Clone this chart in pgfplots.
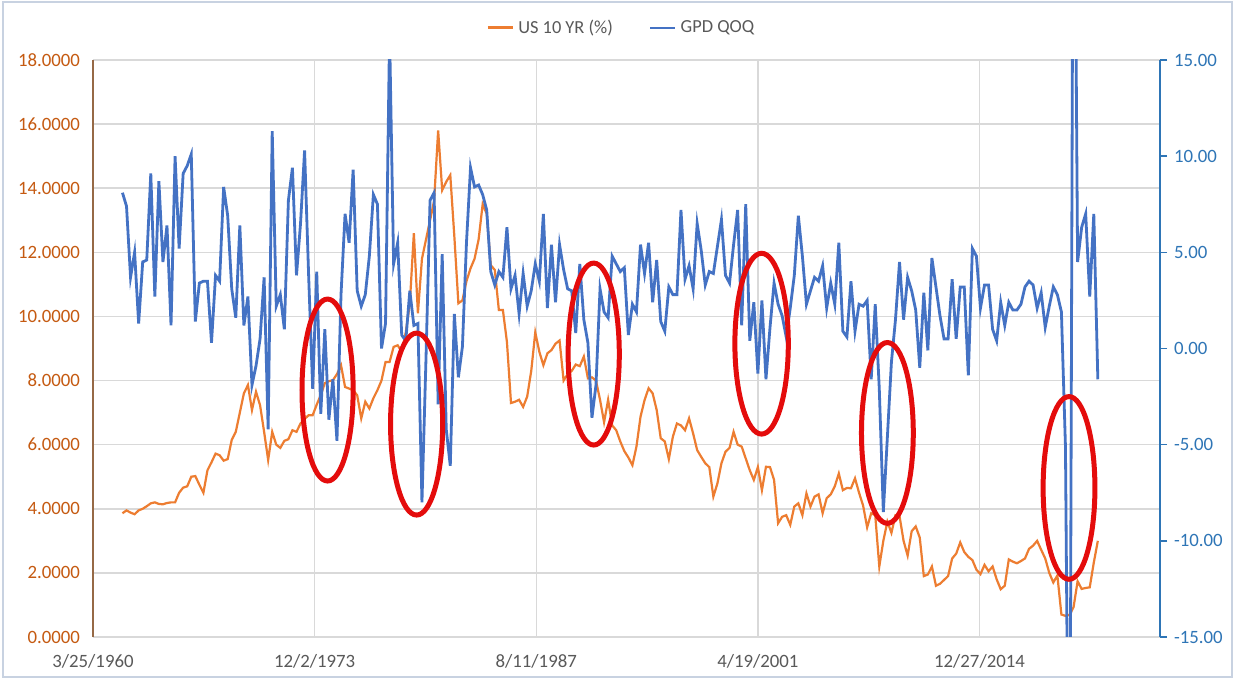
\documentclass[border=0pt]{standalone}
\usepackage{pgfplots}
\usepackage{pgfplotstable}
\pgfplotsset{compat=1.18}
\usepackage{fontspec}
\setmainfont{Carlito}
\definecolor{blueline}{RGB}{68,114,196}
\definecolor{orangeline}{RGB}{237,125,49}
\definecolor{lefttick}{RGB}{197,90,17}
\definecolor{righttick}{RGB}{46,117,182}
\definecolor{gridc}{RGB}{217,217,217}
\definecolor{xlab}{RGB}{89,89,89}
\definecolor{leftaxis}{RGB}{150,105,70}
\definecolor{framec}{RGB}{200,210,225}
\definecolor{ellred}{RGB}{228,12,12}
\pgfplotstableread{
i us gdp
0 3.86 8.1
1 3.95 7.4
2 3.88 3.7
3 3.83 5.0
4 3.95 1.3
5 4.00 4.5
6 4.08 4.6
7 4.17 9.1
8 4.20 2.7
9 4.15 8.7
10 4.14 4.5
11 4.18 6.4
12 4.20 1.2
13 4.20 10.0
14 4.50 5.2
15 4.66 9.1
16 4.70 9.5
17 5.00 10.1
18 5.02 1.4
19 4.75 3.4
20 4.50 3.5
21 5.20 3.5
22 5.45 0.3
23 5.72 3.8
24 5.67 3.5
25 5.50 8.4
26 5.55 6.9
27 6.15 3.1
28 6.40 1.6
29 7.00 6.4
30 7.60 1.2
31 7.86 2.7
32 7.08 -1.9
33 7.65 -0.9
34 7.23 0.5
35 6.40 3.7
36 5.52 -4.2
37 6.40 11.3
38 6.00 2.2
39 5.90 2.8
40 6.12 1.0
41 6.17 7.7
42 6.45 9.4
43 6.40 3.8
44 6.66 6.5
45 6.80 10.3
46 6.92 3.8
47 6.92 -2.1
48 7.25 4.0
49 7.55 -3.4
50 7.92 1.0
51 7.98 -3.7
52 8.01 -1.6
53 8.20 -4.8
54 8.48 2.8
55 7.80 7.0
56 7.75 5.5
57 7.70 9.3
58 7.54 3.0
59 6.82 2.2
60 7.34 2.8
61 7.13 4.8
62 7.45 8.0
63 7.70 7.5
64 8.00 0.0
65 8.58 1.3
66 8.58 16.4
67 9.05 4.4
68 9.10 5.5
69 8.90 0.7
70 9.50 0.4
71 10.40 3.0
72 12.60 1.2
73 10.10 1.3
74 11.80 -8.0
75 12.40 -0.5
76 13.00 7.7
77 13.60 8.1
78 15.80 -2.9
79 13.94 4.9
80 14.20 -4.2
81 14.41 -6.1
82 12.50 1.8
83 10.41 -1.5
84 10.50 0.1
85 11.10 5.5
86 11.50 9.4
87 11.80 8.4
88 12.40 8.5
89 13.50 8.0
90 13.20 7.2
91 11.60 4.0
92 11.45 3.3
93 10.20 4.0
94 10.20 3.7
95 9.20 6.3
96 7.30 3.1
97 7.34 3.8
98 7.40 1.8
99 7.18 3.9
100 7.50 2.2
101 8.30 3.0
102 9.50 4.4
103 8.90 3.5
104 8.48 7.0
105 8.85 2.1
106 8.95 5.4
107 9.15 2.4
108 9.25 5.4
109 8.00 4.1
110 8.20 3.1
111 8.30 3.0
112 8.50 0.8
113 8.45 4.4
114 8.75 1.5
115 8.07 0.3
116 8.10 -3.6
117 8.00 -1.9
118 7.40 3.1
119 6.70 1.9
120 7.40 1.6
121 6.60 4.8
122 6.45 4.4
123 6.10 4.0
124 5.80 4.2
125 5.60 0.7
126 5.36 2.3
127 5.94 1.9
128 6.87 5.4
129 7.39 3.9
130 7.76 5.5
131 7.60 2.4
132 7.08 4.6
133 6.20 1.4
134 6.10 0.9
135 5.55 3.2
136 6.25 2.8
137 6.66 2.8
138 6.60 7.2
139 6.45 3.6
140 6.82 4.3
141 6.35 3.1
142 5.83 6.5
143 5.62 5.1
144 5.42 3.3
145 5.30 4.0
146 4.38 3.9
147 4.79 5.3
148 5.42 6.7
149 5.78 3.8
150 5.90 3.4
151 6.40 5.4
152 6.00 7.2
153 5.94 1.2
154 5.57 7.5
155 5.20 0.4
156 4.90 2.4
157 5.30 -1.3
158 4.58 2.5
159 5.31 -1.6
160 5.30 1.1
161 4.90 3.4
162 3.55 2.3
163 3.75 1.7
164 3.80 0.6
165 3.50 2.1
166 4.07 3.8
167 4.17 6.9
168 3.80 4.8
169 4.48 2.3
170 4.07 3.0
171 4.38 3.7
172 4.45 3.5
173 3.86 4.3
174 4.33 2.1
175 4.45 3.4
176 4.70 2.3
177 5.10 5.5
178 4.58 0.9
179 4.65 0.6
180 4.64 3.5
181 4.95 0.9
182 4.50 2.3
183 4.10 2.2
184 3.42 2.5
185 3.86 -1.6
186 3.80 2.3
187 2.20 -2.1
188 3.00 -8.5
189 3.60 -4.6
190 3.25 -0.7
191 3.80 1.5
192 3.77 4.5
193 3.00 1.5
194 2.54 3.7
195 3.30 3.0
196 3.45 2.0
197 3.10 -1.0
198 1.90 2.9
199 1.95 -0.1
200 2.20 4.7
201 1.60 3.2
202 1.66 1.7
203 1.78 0.5
204 1.90 0.5
205 2.45 3.6
206 2.60 0.5
207 2.95 3.2
208 2.65 3.2
209 2.50 -1.4
210 2.40 5.2
211 2.10 4.8
212 1.96 2.1
213 2.25 3.3
214 2.05 3.3
215 2.20 1.0
216 1.80 0.4
217 1.49 2.4
218 1.60 1.2
219 2.42 2.4
220 2.35 2.0
221 2.30 2.0
222 2.37 2.3
223 2.45 3.2
224 2.75 3.5
225 2.85 3.3
226 3.00 2.1
227 2.72 2.9
228 2.45 1.1
229 2.00 2.2
230 1.70 3.2
231 1.92 2.8
232 0.70 1.9
233 0.66 -5.1
234 0.69 -31.2
235 0.93 33.8
236 1.74 4.5
237 1.50 6.3
238 1.53 7.0
239 1.55 2.7
240 2.32 7.0
241 3.00 -1.6
}\data
\newcommand{\tickfont}{\fontsize{9.4bp}{11bp}\selectfont}
\begin{document}
\begin{tikzpicture}
\useasboundingbox (-46.5bp,-21bp) rectangle (571bp,318.5bp);
\fill[white] (-46.5bp,-21bp) rectangle (571bp,318.5bp);
\begin{axis}[
  at={(0bp,0bp)}, anchor=south west, scale only axis,
  width=533.5bp, height=288.5bp,
  xmin=1960.23, xmax=2026.14, ymin=0, ymax=18,
  xtick={1960.23,1973.92,1987.61,2001.30,2014.99},
  xticklabels={3/25/1960,12/2/1973,8/11/1987,4/19/2001,12/27/2014},
  ytick={0,2,...,18},
  axis x line*=bottom, axis y line*=left,
  x axis line style={draw=gridc, line width=0.75bp, -},
  y axis line style={draw=leftaxis, line width=1bp, -},
  xmajorgrids, ymajorgrids,
  major grid style={draw=gridc, line width=0.75bp},
  major tick length=0pt,
  tick style={draw=none},
  /pgf/number format/assume math mode=true,
  yticklabel style={text=lefttick, font=\tickfont, xshift=-3bp, /pgf/number format/.cd, fixed, fixed zerofill, precision=4},
  xticklabel style={text=xlab, font=\tickfont, yshift=-5bp},
]
\addplot[orangeline, line width=1.1bp] table[x expr=1962.05+0.25*\thisrow{i}, y=us] {\data};
\end{axis}
\begin{axis}[
  at={(0bp,0bp)}, anchor=south west, scale only axis,
  width=533.5bp, height=288.5bp,
  xmin=1960.23, xmax=2026.14, ymin=-15, ymax=15,
  ytick={-15,-10,...,15}, xtick=\empty,
  axis y line*=right, axis x line=none,
  y axis line style={draw=righttick, line width=1bp, -},
  ytick style={draw=righttick, line width=0.8bp},
  tick align=outside, major tick length=3.5bp,
  /pgf/number format/assume math mode=true,
  yticklabel style={text=righttick, font=\tickfont, /pgf/number format/.cd, fixed, fixed zerofill, precision=2},
  legend style={at={(0.496,1.0555)}, anchor=center, draw=none, fill=none, font=\fontsize{9.2bp}{11bp}\selectfont, text=xlab, legend columns=2, /tikz/every even column/.append style={column sep=16bp}},
  legend image code/.code={\draw[#1] (0bp,0bp) -- (12.5bp,0bp);},
]
\addlegendimage{orangeline, line width=1.5bp}
\addlegendentry{US 10 YR (\%)}
\addplot[blueline, line width=1.4bp] table[x expr=1962.05+0.25*\thisrow{i}, y=gdp] {\data};
\addlegendentry{GPD QOQ}
\draw[ellred, line width=2.5bp] (axis cs:1974.72,-2.16) ellipse [x radius=1.58, y radius=4.73];
\draw[ellred, line width=2.5bp] (axis cs:1980.22,-3.93) ellipse [x radius=1.61, y radius=4.73];
\draw[ellred, line width=2.5bp] (axis cs:1991.16,-0.29) ellipse [x radius=1.58, y radius=4.73];
\draw[ellred, line width=2.5bp] (axis cs:2001.53,0.25) ellipse [x radius=1.65, y radius=4.70];
\draw[ellred, line width=2.5bp] (axis cs:2009.30,-4.39) ellipse [x radius=1.60, y radius=4.70];
\draw[ellred, line width=2.5bp] (axis cs:2020.52,-7.25) ellipse [x radius=1.60, y radius=4.75];
\end{axis}
\draw[framec, line width=0.75bp] (-45bp,-20bp) rectangle (569.5bp,317.5bp);
\end{tikzpicture}
\end{document}
